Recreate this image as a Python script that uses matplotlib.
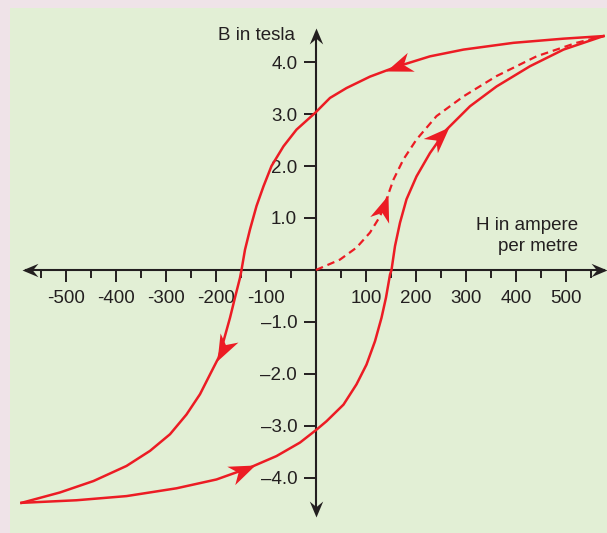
import numpy as np
import matplotlib.pyplot as plt
from matplotlib.markers import MarkerStyle
from matplotlib.path import Path
from matplotlib.transforms import Affine2D

# falling branch of the loop (H in A/m, B in T)
h_down = [575, 495, 395, 295, 228, 161, 108, 61, 28, -2, -39, -65, -89, -105, -119,
          -132, -142, -149, -152, -162, -172, -185, -195, -212, -232, -259, -292,
          -332, -379, -445, -512, -589]
b_down = [4.50, 4.45, 4.37, 4.24, 4.11, 3.91, 3.72, 3.50, 3.31, 3.02, 2.70, 2.38, 2.00,
          1.61, 1.23, 0.78, 0.39, 0.0, -0.15, -0.53, -0.92, -1.37, -1.69, -2.01, -2.39,
          -2.78, -3.16, -3.48, -3.77, -4.06, -4.28, -4.48]

# rising branch
h_up = [-589, -479, -379, -279, -199, -132, -79, -32, 0, 21, 55, 81, 101, 118, 131,
        140, 148, 151, 158, 168, 181, 201, 228, 261, 308, 361, 428, 495, 575]
b_up = [-4.48, -4.43, -4.35, -4.20, -4.03, -3.80, -3.58, -3.32, -3.08, -2.91, -2.59,
        -2.20, -1.82, -1.37, -0.92, -0.53, -0.09, 0.0, 0.46, 0.91, 1.36, 1.80, 2.25,
        2.70, 3.15, 3.53, 3.92, 4.24, 4.50]

# initial magnetisation curve (dashed)
h_init = [0, 48, 81, 108, 128, 141, 155, 175, 201, 241, 295, 361, 441, 521, 575]
b_init = [0, 0.20, 0.43, 0.72, 1.03, 1.36, 1.74, 2.13, 2.51, 2.96, 3.34, 3.73, 4.11,
          4.37, 4.50]

xticks = [-500, -400, -300, -200, -100, 100, 200, 300, 400, 500]
xlabels = ['-500', '-400', '-300', '-200', '-100', '100', '200', '300', '400', '500']
yticks = [4, 3, 2, 1, -1, -2, -3, -4]
ylabels = ['4.0', '3.0', '2.0', '1.0', '\u20131.0', '\u20132.0', '\u20133.0', '\u20134.0']

red = '#ec1c24'
ink = '#231f20'

plt.rcParams['font.family'] = ['Liberation Sans', 'DejaVu Sans']

fig = plt.figure(figsize=(6.07, 5.33), dpi=100, facecolor='#efe3e8')
ax = fig.add_axes([10 / 607, 0, 597 / 607, 525 / 533])
ax.set_facecolor('#e2efd5')
ax.set_xlim(-612, 582)
ax.set_ylim(-5.06, 5.04)

# axes through the origin
for side in ['top', 'right']:
    ax.spines[side].set_visible(False)
ax.spines['left'].set_position(('data', 0))
ax.spines['bottom'].set_position(('data', 0))
ax.spines['left'].set_bounds(-4.62, 4.55)
ax.spines['bottom'].set_bounds(-580, 575)
for side in ['left', 'bottom']:
    ax.spines[side].set_color(ink)
    ax.spines[side].set_linewidth(1.5)

ax.set_xticks(xticks)
ax.set_xticklabels(xlabels)
ax.set_xticks(np.arange(-550, 600, 100), minor=True)
ax.set_yticks(yticks)
ax.set_yticklabels(ylabels)
ax.tick_params(axis='x', which='major', direction='out', length=8.5, width=1.4,
               color=ink, labelcolor=ink, labelsize=13.5, pad=6)
ax.tick_params(axis='x', which='minor', direction='out', length=5.5, width=1.4, color=ink)
ax.tick_params(axis='y', direction='out', length=8.5, width=1.4,
               color=ink, labelcolor=ink, labelsize=13.5, pad=5)

ax.plot(h_down, b_down, color=red, lw=1.8, solid_joinstyle='round', zorder=4)
ax.plot(h_up, b_up, color=red, lw=1.8, solid_joinstyle='round', zorder=4)
ax.plot(h_init, b_init, color=red, lw=1.6, ls=(0, (3.4, 2.2)), zorder=4)


def head(x, y, dx, dy, color, size, w=0.38, notch=0.7):
    # arrowhead with tip at (x, y) pointing along (dx, dy) in data units
    p0 = ax.transData.transform((x, y))
    p1 = ax.transData.transform((x + dx, y + dy))
    ang = np.degrees(np.arctan2(p1[1] - p0[1], p1[0] - p0[0]))
    verts = [(0, 0), (-1, w), (-notch, 0), (-1, -w), (0, 0)]
    codes = [Path.MOVETO, Path.LINETO, Path.LINETO, Path.LINETO, Path.CLOSEPOLY]
    m = MarkerStyle(Path(verts, codes), transform=Affine2D().rotate_deg(ang))
    ax.plot([x], [y], marker=m, markersize=size, color=color, markeredgewidth=0,
            zorder=6, clip_on=False)


def branch_head(hs, bs, h, step):
    order = np.argsort(hs)
    hh = np.array(hs)[order]
    bb = np.array(bs)[order]
    b0 = np.interp(h, hh, bb)
    b1 = np.interp(h + step, hh, bb)
    head(h, b0, step, b1 - b0, red, 38)


branch_head(h_down, b_down, 140, -10)
branch_head(h_down, b_down, -198, -5)
branch_head(h_up, b_up, -122, 10)
branch_head(h_up, b_up, 266, 8)
branch_head(h_init, b_init, 144, 4)

# axis arrowheads
head(582, 0, 10, 0, ink, 23, w=0.42, notch=0.65)
head(-588, 0, -10, 0, ink, 23, w=0.42, notch=0.65)
head(0, 4.66, 0, 1, ink, 23, w=0.42, notch=0.65)
head(0, -4.75, 0, -1, ink, 23, w=0.42, notch=0.65)

ax.text(-42, 4.52, 'B in tesla', ha='right', va='center', fontsize=13.5, color=ink)
ax.text(524, 0.66, 'H in ampere\nper metre', ha='right', va='center', fontsize=13.5,
        color=ink, linespacing=1.3)

fig.savefig('out.png', dpi=100, facecolor=fig.get_facecolor())
